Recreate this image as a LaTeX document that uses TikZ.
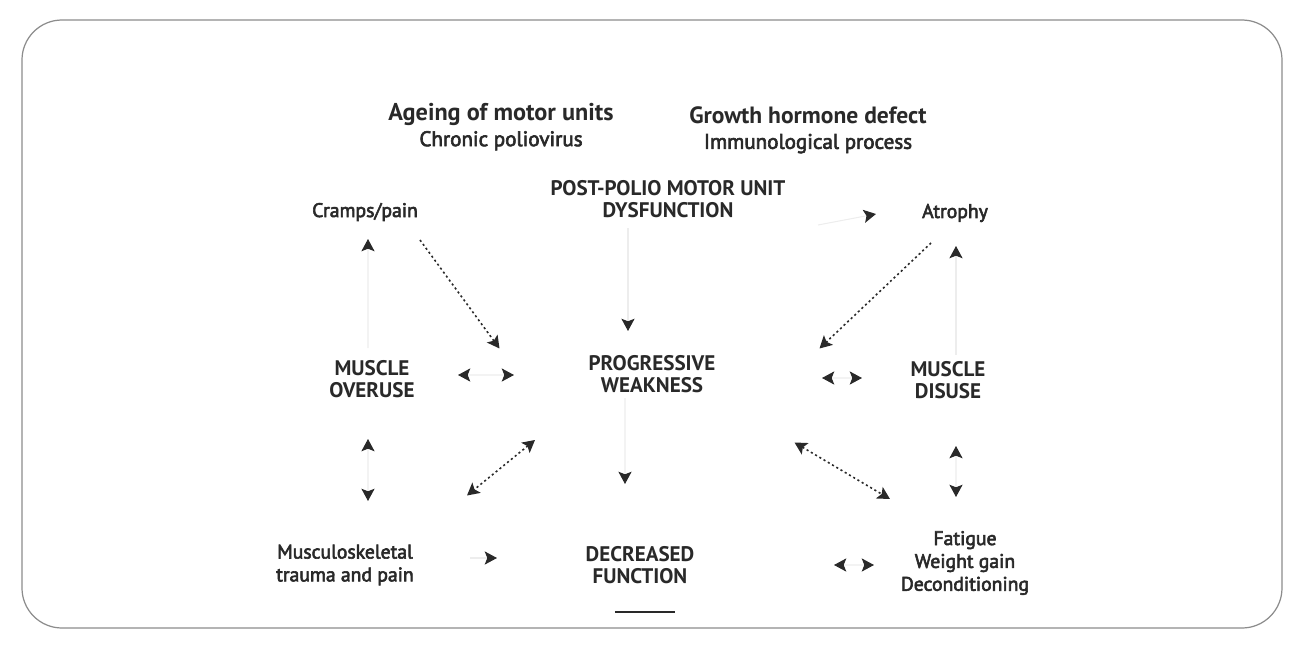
\documentclass[tikz,border=0pt]{standalone}
\usepackage{fontspec}
\setmainfont{PT Sans}
\newfontfamily\medium[FakeBold=3]{PT Sans}
\usetikzlibrary{arrows.meta}
\definecolor{ink}{gray}{0.16}
\definecolor{shaft}{gray}{0.93}
\definecolor{frame}{gray}{0.55}

\begin{document}
\begin{tikzpicture}[->,>={Stealth[length=7pt,width=7.5pt,inset=1.5pt,color=ink]},node distance=3cm,semithick]
\tikzstyle{every node}=[align=center,text=ink,inner sep=2pt,font=\medium\fontsize{11.2}{13}\selectfont]
\tikzstyle{box}=[font=\rmfamily\bfseries\fontsize{12}{12.8}\selectfont]
\tikzstyle{cause}=[font=\medium\fontsize{12}{14.4}\selectfont]
\tikzstyle{link}=[draw=shaft,line width=0.6pt]
\tikzstyle{dots}=[draw=ink,line width=0.9pt,dash pattern=on 1.2pt off 1.6pt]

\useasboundingbox (-13.04,-5.62) rectangle (13,7.48);
\draw[-,draw=frame,line width=0.7pt,rounded corners=0.8cm] (-12.6,-5.08) rectangle (12.6,7.08);

\node[box]   (weak)    at (0,0)                                           {PROGRESSIVE\\WEAKNESS};
\node[box]   (dysf)    [above of=weak, node distance=3.5cm, xshift=0.32cm]   {POST-POLIO MOTOR UNIT\\DYSFUNCTION};
\node[cause] (ageing)  [above of=dysf, node distance=1.44cm, xshift=-3.34cm] {{\rmfamily\bfseries\fontsize{13.8}{14.4}\selectfont Ageing of motor units}\\Chronic poliovirus};
\node[cause] (growth)  [above of=dysf, node distance=1.38cm, xshift=2.8cm]   {{\rmfamily\bfseries\fontsize{13.4}{14.4}\selectfont Growth hormone defect}\\Immunological process};
\node[box]   (overuse) [left of=weak, node distance=5.6cm, yshift=-0.1cm]    {MUSCLE\\OVERUSE};
\node[box]   (disuse)  [right of=weak, node distance=5.92cm, yshift=-0.12cm] {MUSCLE\\DISUSE};
\node        (cramps)  [above of=overuse, node distance=3.34cm, xshift=-0.14cm] {Cramps/pain};
\node        (atrophy) [above of=disuse, node distance=3.34cm, xshift=0.14cm]   {Atrophy};
\node        (musculo) [below of=overuse, node distance=3.72cm, xshift=-0.54cm] {Musculoskeletal\\trauma and pain};
\node        (fatigue) [below of=disuse, node distance=3.66cm, xshift=0.34cm]   {Fatigue\\Weight gain\\Deconditioning};
\node[box]   (decr)    [below of=weak, node distance=3.82cm, xshift=-0.24cm]    {DECREASED\\FUNCTION};

% solid arrows (pale shafts, dark heads)
\path ([shift={(-0.8,-0.58)}]dysf.center)    edge[link] ([shift={(-0.48,0.86)}]weak.center)
      ([shift={(-0.54,-0.48)}]weak.center)   edge[link] ([shift={(-0.3,1.62)}]decr.center)
      ([shift={(1.72,0.08)}]overuse.center)  edge[link,<->] ([shift={(-2.76,-0.02)}]weak.center)
      ([shift={(3.4,-0.08)}]weak.center)     edge[link,<->] ([shift={(-1.72,0.04)}]disuse.center)
      ([shift={(-0.08,0.62)}]overuse.center) edge[link] ([shift={(0.06,-0.54)}]cramps.center)
      ([shift={(0.16,0.5)}]disuse.center)    edge[link] ([shift={(0.02,-0.66)}]atrophy.center)
      ([shift={(3,-0.52)}]dysf.center)       edge[link] ([shift={(-1.58,-0.02)}]atrophy.center)
      ([shift={(-0.08,-1.2)}]overuse.center) edge[link,<->] ([shift={(0.46,1.28)}]musculo.center)
      ([shift={(0.16,-1.32)}]disuse.center)  edge[link,<->] ([shift={(-0.18,1.32)}]fatigue.center)
      ([shift={(2.5,0.14)}]musculo.center)   edge[link] ([shift={(-2.86,0.14)}]decr.center)
      ([shift={(3.88,0)}]decr.center)        edge[link,<->] ([shift={(-1.82,-0.04)}]fatigue.center);

% dotted arrows
\path ([shift={(1.1,-0.56)}]cramps.center)   edge[dots] ([shift={(-3.05,0.51)}]weak.center)
      ([shift={(-0.48,-0.6)}]atrophy.center) edge[dots] ([shift={(3.35,0.51)}]weak.center)
      ([shift={(-2.34,-1.32)}]weak.center)   edge[dots,<->] ([shift={(2.44,1.39)}]musculo.center)
      ([shift={(2.85,-1.37)}]weak.center)    edge[dots,<->] ([shift={(-1.5,1.28)}]fatigue.center);

\draw[-,ink,line width=1pt] ([shift={(-0.5,-0.94)}]decr.center) -- ([shift={(0.7,-0.94)}]decr.center);
\end{tikzpicture}
\end{document}
